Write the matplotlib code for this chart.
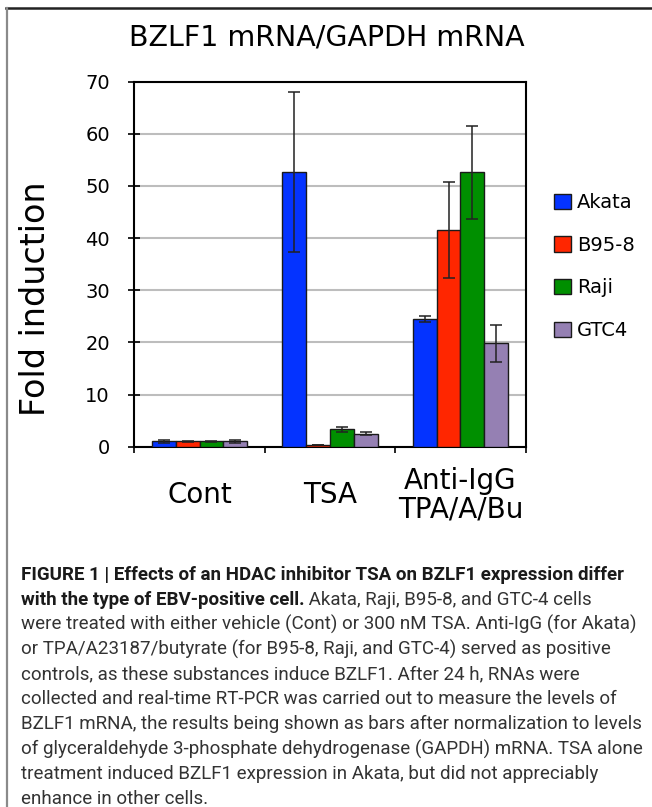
import matplotlib
matplotlib.use("Agg")
import matplotlib.pyplot as plt
from matplotlib import font_manager
from matplotlib.patches import Patch
from matplotlib.lines import Line2D
import matplotlib.transforms as mtransforms
import numpy as np

# ---------------- data ----------------
categories = ["Cont", "TSA", "Anti-IgG\nTPA/A/Bu"]
series = ["Akata", "B95-8", "Raji", "GTC4"]
akata = [1.0, 52.7, 24.5]
b95_8 = [1.0, 0.3, 41.5]
raji = [1.0, 3.3, 52.6]
gtc4 = [1.0, 2.5, 19.8]
akata_err = [0.2, 15.3, 0.6]
b95_8_err = [0.1, 0.05, 9.2]
raji_err = [0.15, 0.55, 9.0]
gtc4_err = [0.2, 0.3, 3.5]
values = [akata, b95_8, raji, gtc4]
errors = [akata_err, b95_8_err, raji_err, gtc4_err]
colors = ["#0433FF", "#FF2600", "#008F00", "#9580B3"]
yticks = [0, 10, 20, 30, 40, 50, 60, 70]
title = "BZLF1 mRNA/GAPDH mRNA"
ylabel = "Fold induction"

caption_bold_1 = "FIGURE 1 | Effects of an HDAC inhibitor TSA on BZLF1 expression differ"
caption_bold_2 = "with the type of EBV-positive cell."
caption_rest_2 = " Akata, Raji, B95-8, and GTC-4 cells"
caption_lines = [
    "were treated with either vehicle (Cont) or 300 nM TSA. Anti-IgG (for Akata)",
    "or TPA/A23187/butyrate (for B95-8, Raji, and GTC-4) served as positive",
    "controls, as these substances induce BZLF1. After 24 h, RNAs were",
    "collected and real-time RT-PCR was carried out to measure the levels of",
    "BZLF1 mRNA, the results being shown as bars after normalization to levels",
    "of glyceraldehyde 3-phosphate dehydrogenase (GAPDH) mRNA. TSA alone",
    "treatment induced BZLF1 expression in Akata, but did not appreciably",
    "enhance in other cells.",
]

# ---------------- fonts ----------------
def have(name):
    try:
        font_manager.findfont(name, fallback_to_default=False)
        return True
    except Exception:
        return False

chart_font = "DejaVu Sans"
cap_font = "Roboto" if have("Roboto") else "Liberation Sans"

W, H = 652, 807
fig = plt.figure(figsize=(W / 100, H / 100), dpi=100)
fig.patch.set_facecolor("white")

def fx(px):
    return px / W

def fy(py):
    return 1 - py / H

ax = fig.add_axes([fx(134.3), fy(446.7), fx(525.7) - fx(134.3), fy(81.7) - fy(446.7)])

x = np.arange(len(categories))
bw = 0.1825
for i, (vals, errs, c) in enumerate(zip(values, errors, colors)):
    ax.bar(x + (i - 1.5) * bw, vals, width=bw, color=c, edgecolor="#1a1a1a",
           linewidth=1.0, zorder=3, label=series[i])
    ax.errorbar(x + (i - 1.5) * bw, vals, yerr=errs, fmt="none", ecolor="#222222",
                elinewidth=1.1, capsize=4, capthick=1.1, zorder=4)

ax.set_xlim(-0.5, 2.5)
ax.set_ylim(0, 70)
ax.set_yticks(yticks)
ax.set_yticklabels([str(t) for t in yticks], fontfamily=chart_font, fontsize=14)
ax.yaxis.grid(True, color="#BDBDBD", linewidth=1.5, zorder=0)
ax.set_axisbelow(True)
ax.tick_params(axis="y", direction="inout", length=9, width=1.2, pad=13, colors="black")

ax.set_xticks(x)
ax.set_xticklabels(categories, fontfamily=chart_font, fontsize=20, linespacing=1.05)
for lab in ax.get_xticklabels():
    lab.set_verticalalignment("center")
ax.tick_params(axis="x", which="major", length=0, pad=35)
ax.set_xticks([-0.5, 0.5, 1.5, 2.5], minor=True)
ax.tick_params(axis="x", which="minor", direction="out", length=4.5, width=1.2)

for s in ax.spines.values():
    s.set_linewidth(1.5)
    s.set_color("black")

# title and y label
fig.text(fx(327), fy(37), title, fontfamily=chart_font, fontsize=20.5, ha="center", va="center")
fig.text(fx(36), fy(298.5), ylabel, fontfamily=chart_font, fontsize=24, rotation=90,
         ha="center", va="center")

# legend
handles = [Patch(facecolor=c, edgecolor="#1a1a1a", linewidth=1.0) for c in colors]
leg = fig.legend(handles, series, loc="upper left", bbox_to_anchor=(fx(554), fy(193)),
                 frameon=False, prop={"family": chart_font, "size": 14},
                 handlelength=0.85, handleheight=0.85, handletextpad=0.35,
                 labelspacing=1.22, borderpad=0, borderaxespad=0)

# frame lines of the figure
fig.add_artist(Line2D([fx(6), 1.0], [fy(8), fy(8)], color="#222222", linewidth=1.8))
fig.add_artist(Line2D([fx(7), fx(7)], [fy(8), 0.0], color="#8a8a8a", linewidth=1.6))

# caption
fig.canvas.draw()
renderer = fig.canvas.get_renderer()
cap_x = fx(21)
base0 = 580.0
step = 24.9
fs0 = 13.0
avail = 641 - 21
# find a common font size so that every caption line fits the available width
probe = fig.text(0, 0, "", fontfamily=cap_font, fontsize=fs0)
widths = []
for txt, wt in [(caption_bold_1, "bold")] + [(l, "normal") for l in caption_lines]:
    probe.set_text(txt)
    probe.set_fontweight(wt)
    widths.append(probe.get_window_extent(renderer).width)
probe.set_text(caption_bold_2)
probe.set_fontweight("bold")
wb2 = probe.get_window_extent(renderer).width
probe.set_text(caption_rest_2)
probe.set_fontweight("normal")
wr2 = probe.get_window_extent(renderer).width
widths.append(wb2 + wr2)
probe.remove()
fs = fs0 * avail / max(widths)

fig.text(cap_x, fy(base0), caption_bold_1, fontfamily=cap_font, fontweight="bold",
         fontsize=fs, ha="left", va="baseline", color="#1a1a1a")
t2 = fig.text(cap_x, fy(base0 + step), caption_bold_2, fontfamily=cap_font,
              fontweight="bold", fontsize=fs, ha="left", va="baseline", color="#1a1a1a")
fig.canvas.draw()
x1 = t2.get_window_extent(renderer).x1
fig.text(0, 0, caption_rest_2, fontfamily=cap_font, fontsize=fs, ha="left",
         va="baseline", color="#333333",
         transform=mtransforms.offset_copy(
             fig.transFigure, fig=fig,
             x=x1 * 72 / fig.dpi,
             y=fy(base0 + step) * H * 72 / fig.dpi, units="points"))

for k, line in enumerate(caption_lines):
    fig.text(cap_x, fy(base0 + step * (k + 2)), line, fontfamily=cap_font, fontsize=fs,
             ha="left", va="baseline", color="#333333")

fig.savefig("out.png", dpi=100, facecolor="white")
